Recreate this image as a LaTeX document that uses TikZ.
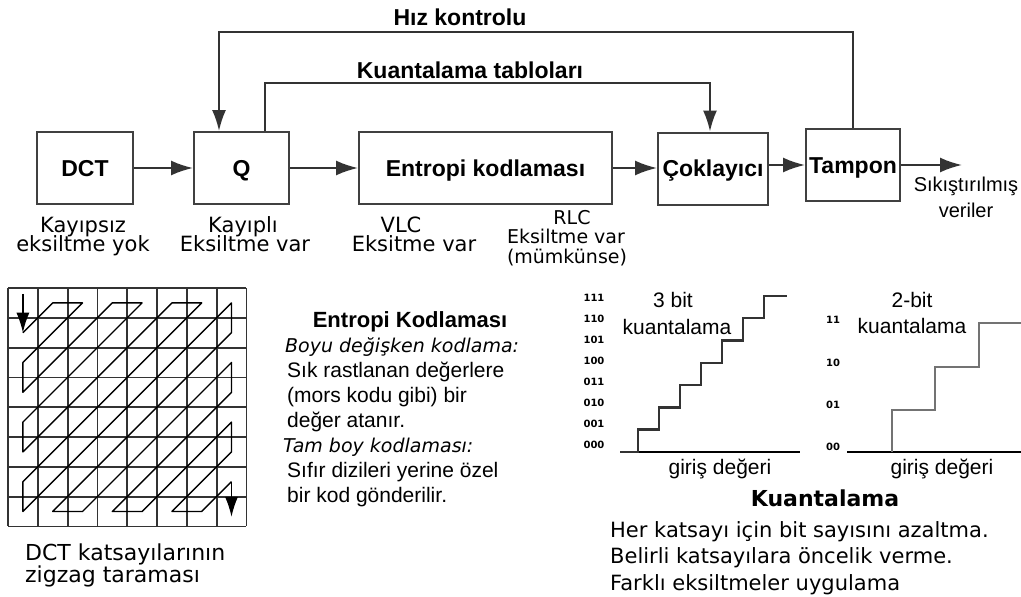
\documentclass[tikz,border=0pt]{standalone}
\usepackage{fontspec}
\setmainfont{DejaVu Sans}
\newfontfamily\tahoma{Liberation Sans}
\usepackage{tikz}
\usetikzlibrary{arrows.meta}
\tikzstyle{block}=[draw=black!75, line width=2pt
%,fill=white
,inner sep=0pt
,minimum height=72pt
,text height=16.5pt, text depth=0pt
,font=\tahoma\bfseries\fontsize{23}{23}\selectfont
]
\tikzstyle{edge} = [draw=black!80, line width=2pt, -{Latex[length=22pt,width=15pt]}]
\tikzstyle{feedback} = [edge, -{Latex[length=21pt,width=14pt]}]
\tikzstyle{headtxt} = [inner sep=0pt, anchor=base, font=\tahoma\bfseries\fontsize{23}{23}\selectfont]
\tikzstyle{lbl} = [inner sep=0pt, anchor=base, font=\fontsize{21}{21}\selectfont]
\tikzstyle{lblleft} = [lbl, anchor=base west]
\tikzstyle{thinlbl} = [inner sep=0pt, anchor=base, font=\tahoma\fontsize{21}{21}\selectfont]
\tikzstyle{bodytxt} = [thinlbl, anchor=base west]
\tikzstyle{bodyit} = [lblleft, font=\itshape\fontsize{19}{19}\selectfont]
\tikzstyle{bittxt} = [inner sep=0pt, font=\bfseries\fontsize{10}{10}\selectfont]
\tikzstyle{gridline} = [draw=black!80, line width=1.8pt]
\tikzstyle{scanline} = [draw=black, line width=1.4pt, line join=round]
\tikzstyle{axis} = [draw=black, line width=2pt]
\tikzstyle{stair} = [draw=black!80, line width=2.5pt]

\begin{document}
\begin{tikzpicture}[x=1pt,y=-1pt]
    \useasboundingbox (0,0) rectangle (1021,597);
    % Blocks of the coder
    \foreach \pos/\name/\w/\txt in {{(85,168)/DCT/96/DCT}, {(241.5,168)/Q/95/Q}, {(485.5,168)/ENT/253/Entropi kodlaması}, {(713,168.5)/MUX/110/Çoklayıcı}, {(853,165)/BUF/94/Tampon}}
        \node[block, minimum width=\w pt] (\name) at \pos {\txt};
    \coordinate (OUT) at (962,165);

    % Main flow
    \path[edge] (DCT) -- (Q);
    \path[edge] (Q) -- (ENT);
    \path[edge] (ENT.east) -- (ENT.east -| MUX.west);
    \path[edge] (MUX.east |- BUF) -- (BUF.west);
    \path[edge] (BUF) -- (OUT);

    % Feedback loops
    \coordinate (hizL) at (219,32);
    \coordinate (hizR) at (853,32);
    \coordinate (tabL) at (265,83);
    \coordinate (tabR) at (710,83);
    \path[feedback] (BUF.north) -- (hizR) -- (hizL) -- (hizL |- Q.north);
    \path[feedback] (tabL |- Q.north) -- (tabL) -- (tabR) -- (tabR |- MUX.north);
    \node[headtxt] (hiz) at (460,25) {Hız kontrolu};
    \node[headtxt] (tab) at (470,78) {Kuantalama tabloları};

    % Notes under the blocks
    \foreach \pos/\name/\txt in {{(83,232)/kay1/Kayıpsız}, {(83,251)/kay2/eksiltme yok}, {(243,232)/kay3/Kayıplı}, {(245,251)/kay4/Eksiltme var}, {(401,232)/vlc1/VLC}, {(414,251)/vlc2/Eksitme var}}
        \node[lbl] (\name) at \pos {\txt};
    \foreach \pos/\name/\txt in {{(572,224)/rlc1/RLC}, {(566,243)/rlc2/Eksiltme var}, {(567,263)/rlc3/(mümkünse)}}
        \node[lbl, font=\fontsize{19}{19}\selectfont] (\name) at \pos {\txt};
    \node[thinlbl, font=\tahoma\fontsize{20}{20}\selectfont] (out1) at (966,191) {Sıkıştırılmış};
    \node[thinlbl, font=\tahoma\fontsize{20}{20}\selectfont] (out2) at (966,217) {veriler};

    % Zigzag scan of the 8x8 block
    \begin{scope}[shift={(22.9,302.9)}, x=29.8pt, y=-29.8pt]
        \foreach \i in {-0.5,0.5,...,7.5} {
            \draw[gridline] (\i,-0.5) -- (\i,7.5);
            \draw[gridline] (-0.5,\i) -- (7.5,\i);
        }
        \draw[scanline] (0,1) -- (1,0) -- (2,0) -- (0,2) -- (0,3) -- (3,0) -- (4,0) -- (0,4) -- (0,5) -- (5,0) -- (6,0) -- (0,6) -- (0,7) -- (7,0) -- (7,1) -- (1,7) -- (2,7) -- (7,2) -- (7,3) -- (3,7) -- (4,7) -- (7,4) -- (7,5) -- (5,7) -- (6,7) -- (7,6);
        \draw[scanline, -{Latex[length=20pt,width=13pt]}] (0,-0.3) -- (0,1);
        \draw[scanline, -{Latex[length=20pt,width=13pt]}] (7,6) -- (7,7.18);
    \end{scope}
    \node[lblleft, font=\fontsize{22}{22}\selectfont] (zz1) at (25,560) {DCT katsayılarının};
    \node[lblleft, font=\fontsize{22}{22}\selectfont] (zz2) at (25,582) {zigzag taraması};

    % Entropy coding text
    \node[headtxt, font=\tahoma\bfseries\fontsize{22}{22}\selectfont] (enthead) at (410,327) {Entropi Kodlaması};
    \node[bodyit] (vlchead) at (285,352) {Boyu değişken kodlama:};
    \foreach \pos/\name/\txt in {{(287,377)/vl1/Sık rastlanan değerlere}, {(287,402)/vl2/(mors kodu gibi) bir}, {(287,427)/vl3/değer atanır.}}
        \node[bodytxt] (\name) at \pos {\txt};
    \node[bodyit] (rlchead) at (283,452) {Tam boy kodlaması:};
    \foreach \pos/\name/\txt in {{(287,477)/rl1/Sıfır dizileri yerine özel}, {(287,502)/rl2/bir kod gönderilir.}}
        \node[bodytxt] (\name) at \pos {\txt};

    % Quantiser curves
    \foreach \code [count=\k from 0] in {000,001,010,011,100,101,110,111}
        \node[bittxt] (bitA\k) at (594,{445-21*\k}) {\code};
    \draw[axis] (620,452) -- (800,452);
    \draw[stair] (620,452) \foreach \k in {0,...,6} { -| ({638+21*\k},{452-22.3*(\k+1)}) } -- (787,{452-22.3*7});
    \node[thinlbl] (q3a) at (673,307) {3 bit};
    \node[thinlbl] (q3b) at (677,334) {kuantalama};
    \node[thinlbl] (q3c) at (720,474) {giriş değeri};

    \foreach \code [count=\k from 0] in {00,01,10,11}
        \node[bittxt] (bitB\k) at (833,{447-42.3*\k}) {\code};
    \draw[axis] (847,452) -- (1021,452);
    \draw[stair, draw=black!55] (892,452) |- (935,410) |- (979,367) |- (1021,323);
    \node[thinlbl] (q2a) at (912,307) {2-bit};
    \node[thinlbl] (q2b) at (912,333) {kuantalama};
    \node[thinlbl] (q2c) at (942,474) {giriş değeri};

    % Quantisation text
    \node[lbl, font=\bfseries\fontsize{22}{22}\selectfont] (qhead) at (825,506) {Kuantalama};
    \foreach \pos/\name/\txt in {{(610,537)/qt1/Her katsayı için bit sayısını azaltma.}, {(610,563)/qt2/Belirli katsayılara öncelik verme.}, {(610,590)/qt3/Farklı eksiltmeler uygulama}}
        \node[lblleft] (\name) at \pos {\txt};
\end{tikzpicture}
\end{document}
